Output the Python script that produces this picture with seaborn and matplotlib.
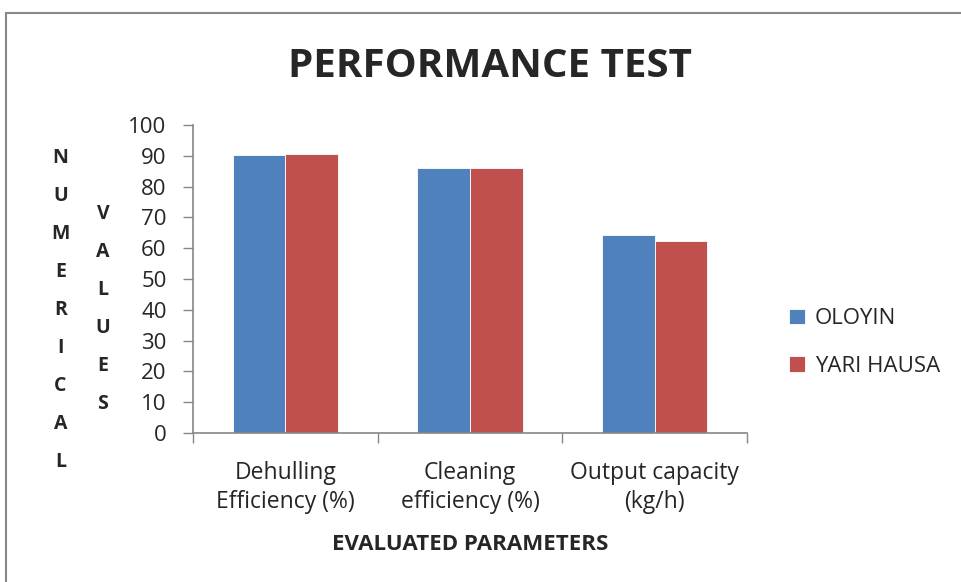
import pandas as pd
import matplotlib.pyplot as plt
import seaborn as sns
from matplotlib.patches import Rectangle

# data
parameters = ['Dehulling\nEfficiency (%)', 'Cleaning\nefficiency (%)', 'Output capacity\n(kg/h)']
oloyin = [90.2, 86.0, 64.4]
yari_hausa = [90.6, 86.2, 62.3]
varieties = ['OLOYIN', 'YARI HAUSA']
colors = ['#4F81BD', '#C0504D']

df = pd.DataFrame({
    'parameter': parameters * 2,
    'value': oloyin + yari_hausa,
    'variety': [varieties[0]] * 3 + [varieties[1]] * 3,
})

sns.set_style('white')
plt.rcParams['font.family'] = ['Open Sans', 'DejaVu Sans']

fig = plt.figure(figsize=(9.61, 5.82), dpi=100)
ax = fig.add_axes([0.2008, 0.256, 0.5767, 0.529])

sns.barplot(data=df, x='parameter', y='value', hue='variety', palette=colors,
            width=0.57, saturation=1, edgecolor='white', linewidth=0.6, ax=ax)

# axes styling like the office chart
grey = '#868686'
ax.set_ylim(0, 100)
ax.set_xlim(-0.5, 2.5)
ax.set_yticks(range(0, 101, 10))
ax.tick_params(axis='y', labelsize=16, length=7, width=1, color=grey, pad=12, direction='out', left=True)
ax.set_xticks([-0.5, 0.5, 1.5, 2.5], minor=True)
ax.tick_params(axis='x', which='minor', length=7, width=1, color=grey, direction='out', bottom=True)
ax.tick_params(axis='x', which='major', length=0, labelsize=16.5, pad=20)
ax.set_xticks(range(3))
ax.set_xticklabels(parameters, linespacing=1.3)
for s in ['top', 'right']:
    ax.spines[s].set_visible(False)
for s in ['left', 'bottom']:
    ax.spines[s].set_color(grey)
    ax.spines[s].set_linewidth(1.2)
ax.set_ylabel('')
ax.set_xlabel('EVALUATED PARAMETERS', fontsize=16, fontweight='bold', labelpad=14)

# legend at the right
handles, labels = ax.get_legend_handles_labels()
ax.legend(handles, labels, loc='center left', bbox_to_anchor=(1.0757, 0.294), frameon=False,
          fontsize=16, handlelength=0.7, handleheight=0.7, handletextpad=0.45,
          labelspacing=1.2, borderpad=0, borderaxespad=0)

# title
fig.text(0.51, 0.885, 'PERFORMANCE TEST', ha='center', va='center',
         fontsize=29, fontweight='bold')

# stacked y label letters
fig.text(0.063, 1 - 310 / 582, '\n'.join('NUMERICAL'), ha='center', va='center',
         fontsize=14, fontweight='bold', linespacing=2.2)
fig.text(0.107, 1 - 309 / 582, '\n'.join('VALUES'), ha='center', va='center',
         fontsize=14, fontweight='bold', linespacing=2.2)

# chart area frame
fig.patches.append(Rectangle((6 / 961, -0.1), 1.2, 1 - 13 / 582 + 0.1,
                             transform=fig.transFigure, fill=False,
                             edgecolor='#888888', linewidth=1.5))

fig.savefig('out.png', dpi=100)
